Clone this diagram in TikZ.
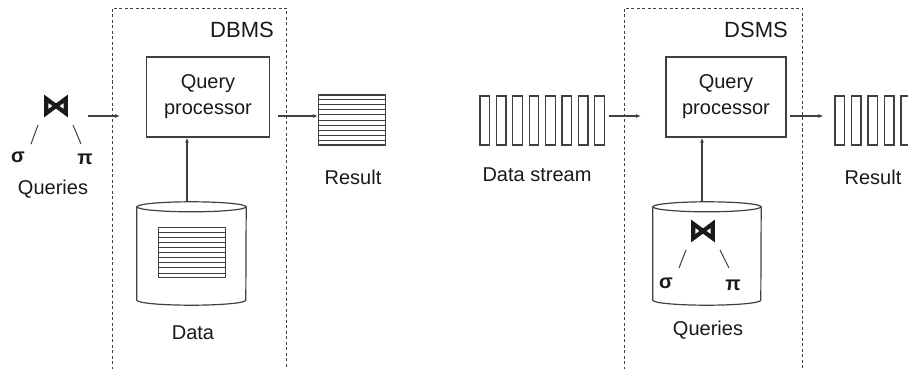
\documentclass[tikz,border=0pt]{standalone}
\usepackage{fontspec}
\setmainfont{Liberation Sans}
\newfontfamily\symfont[FakeBold=3]{DejaVu Sans}
\usetikzlibrary{positioning, arrows.meta, calc}

\begin{document}
\begin{tikzpicture}[
    x=1pt, y=-1pt,
    % --- stiluri ---
    every node/.style={font=\fontsize{20}{26}\selectfont, text=black!90, inner sep=0pt},
    linie/.style={draw=black!75, line width=1.2pt},
    proc/.style={
            linie,
            minimum width=123pt,
            minimum height=80pt,
            align=center
        },
    tabel/.style={
            linie,
            minimum width=67pt,
            minimum height=50pt
        },
    slot/.style={
            linie,
            minimum width=9.5pt,
            minimum height=49pt
        },
    dbcorp/.style={
            minimum width=109pt,
            minimum height=93pt
        },
    cadru/.style={draw=black!75, line width=0.9pt, dash pattern=on 3pt off 2.5pt},
    sageata/.style={
            linie,
            -{Latex[length=5pt,width=4pt]}
        },
    op/.style={font=\fontsize{20}{24}\selectfont\bfseries},
    uniune/.style={font=\fontsize{29}{30}\selectfont\symfont\bfseries},
    ram/.style={linie, line width=1pt}
    ]
    \useasboundingbox (0,0) rectangle (908,369);

    % 1. Cadrul DBMS (stanga)
    \draw[cadru] (112,375) |- (286,8) -- (286,375);
    \node[anchor=east, font=\fontsize{22}{26}\selectfont] (dbms) at (274,30) {DBMS};
    \node[proc] (qpL) at (208,97) {Query\\processor};

    % interogari (arbore)
    \node[uniune] (joinL) at (56,106) {⋈};
    \node[op] (sigL) at (18,157) {σ};
    \node[op] (piL) at (85,159) {π};
    \draw[ram] ([shift={(-18,19)}]joinL.center) -- ([shift={(-25,38)}]joinL.center);
    \draw[ram] ([shift={(17,19)}]joinL.center) -- ([shift={(25,38)}]joinL.center);
    \node (qryL) at (53,189) {Queries};

    % baza de date (cilindru)
    \node[dbcorp] (dbL) at (191.5,253.5) {};
    \draw[linie] (dbL.north west) -- (dbL.south west)
        arc[start angle=180, end angle=360, x radius=54.5pt, y radius=5pt] -- (dbL.north east);
    \draw[linie] (dbL.north) ellipse [x radius=54.5pt, y radius=5pt];
    \node[tabel] (dataTab) at (192,252.5) {};
    \foreach \k in {1,...,9}
        \draw[linie, line width=0.9pt] ($(dataTab.north west)!\k/10!(dataTab.south west)$) -- ($(dataTab.north east)!\k/10!(dataTab.south east)$);
    \node (dataLbl) at (193,333) {Data};

    % rezultat
    \node[tabel] (resTab) at (352,120) {};
    \foreach \k in {1,...,9}
        \draw[linie, line width=0.9pt] ($(resTab.north west)!\k/10!(resTab.south west)$) -- ($(resTab.north east)!\k/10!(resTab.south east)$);
    \node (resL) at (353,177) {Result};

    % conexiuni
    \coordinate (inL1) at (88,116);
    \coordinate (inL2) at (120,116);
    \coordinate (outL1) at (278,116);
    \draw[sageata] (inL1) -- (inL2);
    \draw[sageata] (outL1) -- (outL1 -| resTab.west);
    \draw[sageata] ([shift={(-4.5pt,5pt)}]dbL.north) -- ([xshift=-4.5pt]dbL.north |- qpL.south);

    % 2. Cadrul DSMS (dreapta)
    \draw[cadru] (624,375) |- (802,8) -- (802,375);
    \node[anchor=east, font=\fontsize{22}{26}\selectfont] (dsms) at (788,30) {DSMS};
    \node[proc, minimum width=120pt] (qpR) at (726,97) {Query\\processor};

    % flux de date
    \foreach \i in {0,...,7}
        \node[slot] (ds\i) at (484.75+16.4*\i,120.5) {};
    \node (dsLbl) at (537,175) {Data stream};

    % flux rezultat
    \foreach \i in {0,...,4}
        \node[slot] (rs\i) at (839.75+16.5*\i,120.5) {};
    \node (resR) at (873,177) {Result};

    % interogari in baza (cilindru)
    \node[dbcorp, minimum width=108pt] (dbR) at (707,253.5) {};
    \draw[linie] (dbR.north west) -- (dbR.south west)
        arc[start angle=180, end angle=360, x radius=54pt, y radius=5pt] -- (dbR.north east);
    \draw[linie] (dbR.north) ellipse [x radius=54pt, y radius=5pt];
    \node[uniune] (joinR) at (703,231) {⋈};
    \node[op] (sigR) at (666,283) {σ};
    \node[op] (piR) at (733,285) {π};
    \draw[ram] ([shift={(-17,19)}]joinR.center) -- ([shift={(-24,37)}]joinR.center);
    \draw[ram] ([shift={(17,19)}]joinR.center) -- ([shift={(26,37)}]joinR.center);
    \node (qryR) at (708,330) {Queries};

    % conexiuni
    \coordinate (inR1) at (609,116);
    \coordinate (inR2) at (641,116);
    \coordinate (outR1) at (790,116);
    \draw[sageata] (inR1) -- (inR2);
    \draw[sageata] (outR1) -- ([xshift=-11pt]outR1 -| rs0.west);
    \draw[sageata] ([shift={(-5pt,5pt)}]dbR.north) -- ([xshift=-5pt]dbR.north |- qpR.south);

\end{tikzpicture}
\end{document}
